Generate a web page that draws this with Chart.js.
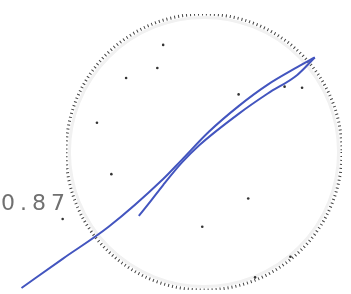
<!DOCTYPE html>
<html>
<head>
<meta charset="utf-8">
<script src="https://cdn.jsdelivr.net/npm/chart.js@4.4.1/dist/chart.umd.min.js"></script>
<style>
  html, body { margin: 0; padding: 0; background: #fff; }
  #wrap { position: relative; width: 351px; height: 294px; overflow: hidden; }
  #ringBox { position: absolute; left: 66px; top: 14px; width: 276px; height: 276px; }
  #lineBox { position: absolute; left: 0; top: 0; width: 351px; height: 294px; }
  #label { position: absolute; left: 1px; top: 192px; font-family: "DejaVu Sans", sans-serif;
           font-size: 22px; line-height: 1; color: #707070; letter-spacing: 5px; }
</style>
</head>
<body>
<div id="wrap">
  <div id="ringBox"><canvas id="ring" width="276" height="276"></canvas></div>
  <div id="lineBox"><canvas id="line" width="351" height="294"></canvas></div>
  <div id="label">0.87</div>
</div>
<script>
// ---- data ----
const ringTicks = [0, 0.975, 1];
const ringLabels = ['', '', ''];

// upper curve (long line from bottom-left to the tip)
const upperX = [0.051, 0.171, 0.305, 0.464, 0.519, 0.598, 0.684, 0.769, 0.855, 0.906];
const upperY = [0.007, 0.109, 0.221, 0.388, 0.456, 0.554, 0.643, 0.718, 0.779, 0.813];
// lower curve (short branch up to the tip)
const lowerX = [0.393, 0.427, 0.464, 0.519, 0.570, 0.684, 0.769, 0.855, 0.906];
const lowerY = [0.259, 0.310, 0.367, 0.446, 0.507, 0.616, 0.687, 0.752, 0.813];

const dotX = [0.447, 0.356, 0.271, 0.464, 0.684, 0.712, 0.578, 0.818, 0.869, 0.171, 0.313, 0.835, 0.732];
const dotY = [0.776, 0.741, 0.585, 0.857, 0.684, 0.320, 0.221, 0.711, 0.707, 0.248, 0.405, 0.116, 0.044];

const labelText = '0.87';
// ------------------------------------

document.getElementById('label').textContent = labelText;

new Chart(document.getElementById('ring'), {
  type: 'radar',
  data: {
    labels: ringLabels,
    datasets: [{ data: [0, 0, 0], pointRadius: 0, borderWidth: 0, backgroundColor: 'transparent' }]
  },
  options: {
    responsive: false,
    animation: false,
    devicePixelRatio: 1,
    layout: { padding: 0 },
    plugins: { legend: { display: false }, tooltip: { enabled: false } },
    scales: {
      r: {
        min: 0, max: 1,
        afterBuildTicks: (scale) => { scale.ticks = ringTicks.map(v => ({ value: v })); },
        angleLines: { display: false },
        pointLabels: { display: false },
        ticks: { display: false },
        grid: {
          circular: true,
          color: (c) => c.tick && c.tick.value === 1 ? '#444' : '#f1f1f1',
          lineWidth: 3
        },
        border: {
          dash: (c) => c.tick && c.tick.value === 1 ? [1, 3] : []
        }
      }
    }
  }
});

const lineStyle = {
  showLine: true,
  borderColor: '#4355bf',
  borderWidth: 2,
  pointRadius: 0,
  cubicInterpolationMode: 'monotone',
  fill: false
};

new Chart(document.getElementById('line'), {
  type: 'scatter',
  data: {
    datasets: [
      Object.assign({ data: upperX.map((x, i) => ({ x: x, y: upperY[i] })) }, lineStyle),
      Object.assign({ data: lowerX.map((x, i) => ({ x: x, y: lowerY[i] })) }, lineStyle),
      {
        data: dotX.map((x, i) => ({ x: x, y: dotY[i] })),
        showLine: false,
        pointRadius: 1.3,
        pointBorderWidth: 0,
        backgroundColor: '#333'
      }
    ]
  },
  options: {
    responsive: false,
    animation: false,
    devicePixelRatio: 1,
    layout: { padding: 0 },
    plugins: { legend: { display: false }, tooltip: { enabled: false } },
    scales: {
      x: { type: 'linear', min: 0, max: 1, display: false },
      y: { type: 'linear', min: 0, max: 1, display: false }
    }
  }
});
</script>
</body>
</html>
